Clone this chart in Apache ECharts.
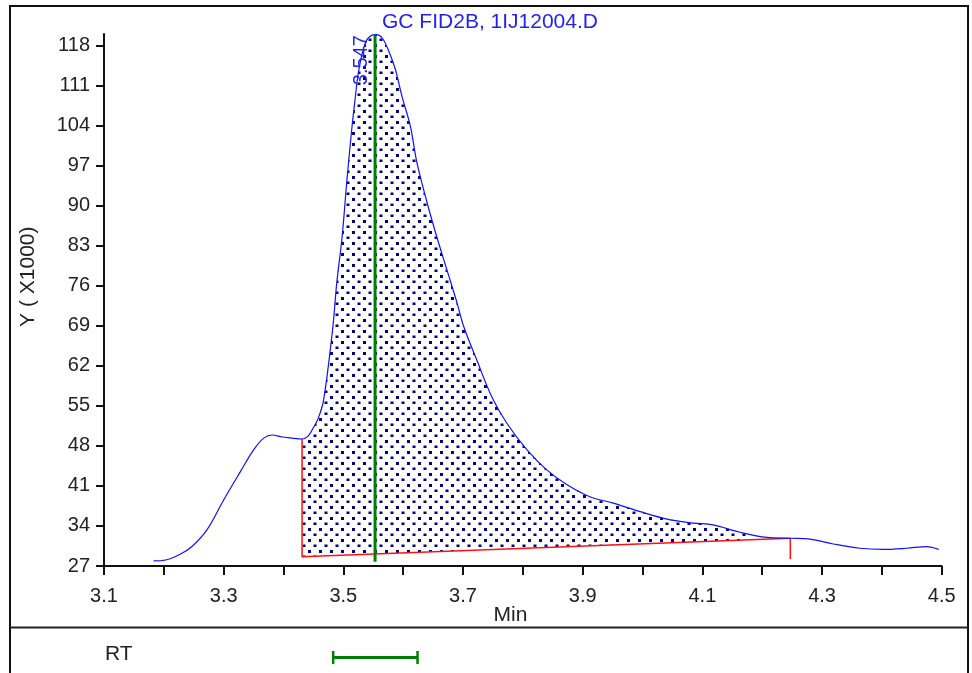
<!DOCTYPE html>
<html><head><meta charset="utf-8">
<script src="https://cdn.jsdelivr.net/npm/echarts@6/dist/echarts.min.js"></script>
<style>html,body{margin:0;padding:0;background:#fff}#c{width:972px;height:673px}</style>
</head><body><div id="c"></div>
<script>
// ---- data ----
const rtMin = [3.183,3.203,3.228,3.247,3.272,3.300,3.328,3.350,3.367,3.381,3.398,3.411,3.431,3.441,3.450,3.458,3.467,3.482,3.489,3.498,3.506,3.514,3.519,3.526,3.537,3.548,3.555,3.565,3.576,3.587,3.598,3.612,3.623,3.640,3.656,3.673,3.690,3.701,3.723,3.748,3.773,3.807,3.840,3.874,3.912,3.951,3.996,4.041,4.085,4.118,4.163,4.208,4.247,4.280,4.319,4.363,4.402,4.441,4.475,4.495];
const signal = [27.9,28.05,29.1,30.4,33.3,38.55,43.5,47.3,49.35,49.9,49.55,49.4,49.2,49.7,51.2,52.8,56.0,68.3,76.5,84.6,94.5,103.3,108.0,113.8,118.5,119.8,119.9,119.3,117.0,113.8,109.1,103.9,97.5,90.5,84.6,78.8,73.0,68.9,63.0,56.6,52.0,47.3,43.8,41.2,39.1,38.0,36.5,35.2,34.5,34.2,32.9,32.0,31.85,31.7,30.85,30.1,29.9,30.1,30.4,29.9];
const yTicks = [27,34,41,48,55,62,69,76,83,90,97,104,111,118];
const xTicks = [3.1,3.2,3.3,3.4,3.5,3.6,3.7,3.8,3.9,4.0,4.1,4.2,4.3,4.4,4.5];
const xLabels = [3.1,3.3,3.5,3.7,3.9,4.1,4.3,4.5];
const titleText = 'GC FID2B, 1IJ12004.D';
const yName = 'Y ( X1000)';
const xName = 'Min';
const rtName = 'RT';
const peakRT = 3.553;          // where the green marker is drawn
const peakLabel = '3.547';
const peakTop = 119.8, peakBottom = 27.75;
const intStart = [3.431, 49.2];   // integration start on curve
const intEnd = [4.247, 31.85];    // integration end on curve
const baseStart = 28.63;          // baseline value at start
const endTickBottom = 28.2;
const rtWindow = [3.483, 3.624];
const rtRow = 0.344;

// ---- build ----
const curve = rtMin.map((x, i) => [x, signal[i]]);
const FONT = '"Liberation Sans", Arial, sans-serif';
const BLUE_TXT = '#2323ee';

const pc = document.createElement('canvas');
pc.width = 11; pc.height = 11;
const g = pc.getContext('2d');
g.fillStyle = '#000080';
g.fillRect(0, 0, 3, 3);
g.fillRect(5.5, 5.5, 3, 2.5);

const chart = echarts.init(document.getElementById('c'), null, {renderer: 'canvas'});
const axisLineStyle = {color: '#111', width: 2};
const labelStyle = {color: '#222', fontSize: 20, fontFamily: FONT};

const option = {
  animation: false,
  backgroundColor: '#fff',
  grid: [
    {left: 104, right: 30.3, top: 34, bottom: 107},
    {left: 104, right: 30.3, top: 628, height: 45}
  ],
  xAxis: [
    {type: 'value', gridIndex: 0, min: 3.1, max: 4.5,
     axisLine: {show: true, onZero: false, lineStyle: axisLineStyle},
     axisTick: {show: true, customValues: xTicks, length: 9, lineStyle: axisLineStyle},
     axisLabel: Object.assign({customValues: xLabels, formatter: v => v.toFixed(1), margin: 20}, labelStyle),
     splitLine: {show: false}},
    {type: 'value', gridIndex: 1, min: 3.1, max: 4.5, show: false}
  ],
  yAxis: [
    {type: 'value', gridIndex: 0, min: 27, max: 120,
     axisLine: {show: true, onZero: false, lineStyle: axisLineStyle},
     axisTick: {show: true, customValues: yTicks, length: 8, lineStyle: axisLineStyle},
     axisLabel: Object.assign({customValues: yTicks, margin: 14}, labelStyle),
     splitLine: {show: false}},
    {type: 'value', gridIndex: 1, min: 0, max: 1, show: false}
  ],
  series: [
    { // dotted integration area
      type: 'custom', xAxisIndex: 0, yAxisIndex: 0, z: 1, silent: true, clip: false,
      data: [[intStart[0], baseStart]],
      renderItem: (p, api) => {
        const pts = curve.filter(d => d[0] >= intStart[0] && d[0] <= intEnd[0]).map(d => api.coord(d));
        pts.push(api.coord([intStart[0], baseStart]));
        return {type: 'polygon', shape: {points: pts},
                style: {fill: {image: pc, repeat: 'repeat'}, stroke: null}};
      }
    },
    { // red baseline and drop lines
      type: 'custom', xAxisIndex: 0, yAxisIndex: 0, z: 2, silent: true, clip: false,
      data: [[intStart[0], baseStart]],
      renderItem: (p, api) => {
        const a = api.coord(intStart), b = api.coord([intStart[0], baseStart]);
        const c = api.coord(intEnd), d = api.coord([intEnd[0], endTickBottom]);
        const st = {stroke: '#ff1010', lineWidth: 1.5, fill: null};
        return {type: 'group', children: [
          {type: 'polyline', shape: {points: [a, b, c]}, style: st},
          {type: 'line', shape: {x1: c[0], y1: c[1], x2: d[0], y2: d[1]}, style: st}
        ]};
      }
    },
    { // chromatogram
      type: 'line', xAxisIndex: 0, yAxisIndex: 0, z: 3, data: curve,
      showSymbol: false, symbol: 'none', smooth: 0.35,
      lineStyle: {color: '#1010ff', width: 1.2}, silent: true
    },
    { // green RT marker + label
      type: 'custom', xAxisIndex: 0, yAxisIndex: 0, z: 4, silent: true, clip: false,
      data: [[peakRT, peakTop]],
      renderItem: (p, api) => {
        const t = api.coord([peakRT, peakTop]), b = api.coord([peakRT, peakBottom]);
        return {type: 'group', children: [
          {type: 'line', shape: {x1: t[0], y1: t[1], x2: b[0], y2: b[1]},
           style: {stroke: '#008000', lineWidth: 3}},
          {type: 'text', x: t[0] - 14, y: t[1], rotation: Math.PI / 2,
           style: {text: peakLabel, fill: BLUE_TXT, font: '20px ' + FONT,
                   textAlign: 'right', textVerticalAlign: 'middle'}}
        ]};
      }
    },
    { // RT window bar
      type: 'line', xAxisIndex: 1, yAxisIndex: 1, z: 3, silent: true,
      data: rtWindow.map(x => [x, rtRow]),
      symbol: 'rect', symbolSize: [2.5, 13], showSymbol: true,
      itemStyle: {color: '#008000'},
      lineStyle: {color: '#008000', width: 3}
    }
  ],
  graphic: [
    {type: 'rect', z: 100, shape: {x: 10, y: 6, width: 958, height: 700},
     style: {fill: null, stroke: '#111', lineWidth: 2}},
    {type: 'line', z: 100, shape: {x1: 10, y1: 627.5, x2: 968, y2: 627.5},
     style: {stroke: '#222', lineWidth: 2}},
    {type: 'text', x: 490, y: 22.5, z: 100,
     style: {text: titleText, fill: BLUE_TXT, font: '21px ' + FONT, textAlign: 'center', textVerticalAlign: 'middle'}},
    {type: 'text', x: 28.5, y: 276.7, rotation: Math.PI / 2, z: 100,
     style: {text: yName, fill: '#222', font: '21px ' + FONT, textAlign: 'center', textVerticalAlign: 'middle'}},
    {type: 'text', x: 510.5, y: 615.5, z: 100,
     style: {text: xName, fill: '#222', font: '21px ' + FONT, textAlign: 'center', textVerticalAlign: 'middle'}},
    {type: 'text', x: 105, y: 654, z: 100,
     style: {text: rtName, fill: '#222', font: '21px ' + FONT, textAlign: 'left', textVerticalAlign: 'middle'}}
  ]
};
chart.setOption(option);
</script>
</body></html>
